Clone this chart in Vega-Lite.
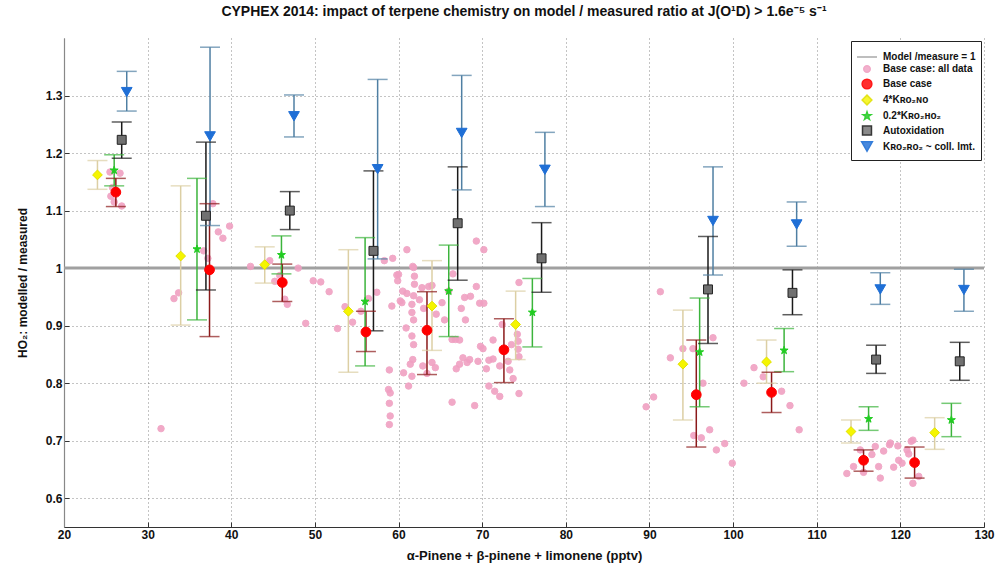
{
  "$schema": "https://vega.github.io/schema/vega-lite/v6.json",
  "width": 920,
  "height": 489,
  "autosize": "none",
  "padding": {"left": 64, "top": 38, "right": 11, "bottom": 41},
  "background": "white",
  "title": {
    "text": "CYPHEX 2014: impact of terpene chemistry on model / measured ratio  at J(O¹D) > 1.6e⁻⁵ s⁻¹",
    "font": "Liberation Sans",
    "fontSize": 14,
    "fontWeight": "bold",
    "color": "#111",
    "anchor": "middle",
    "offset": 19
  },
  "datasets": {
    "summary": [
      {"series": "Base case", "x": 26.2, "y": 1.132, "lo": 1.107, "hi": 1.156},
      {"series": "Base case", "x": 37.4, "y": 0.997, "lo": 0.881, "hi": 1.112},
      {"series": "Base case", "x": 46.1, "y": 0.975, "lo": 0.942, "hi": 1.007},
      {"series": "Base case", "x": 56.1, "y": 0.889, "lo": 0.855, "hi": 0.925},
      {"series": "Base case", "x": 63.4, "y": 0.892, "lo": 0.815, "hi": 0.959},
      {"series": "Base case", "x": 72.6, "y": 0.858, "lo": 0.801, "hi": 0.912},
      {"series": "Base case", "x": 95.6, "y": 0.780, "lo": 0.689, "hi": 0.875},
      {"series": "Base case", "x": 104.6, "y": 0.784, "lo": 0.749, "hi": 0.819},
      {"series": "Base case", "x": 115.6, "y": 0.666, "lo": 0.647, "hi": 0.684},
      {"series": "Base case", "x": 121.7, "y": 0.662, "lo": 0.635, "hi": 0.689},
      {"series": "4*Kʀᴏ₂ɴᴏ", "x": 24.0, "y": 1.162, "lo": 1.137, "hi": 1.187},
      {"series": "4*Kʀᴏ₂ɴᴏ", "x": 33.95, "y": 1.021, "lo": 0.901, "hi": 1.143},
      {"series": "4*Kʀᴏ₂ɴᴏ", "x": 44.0, "y": 1.006, "lo": 0.974, "hi": 1.037},
      {"series": "4*Kʀᴏ₂ɴᴏ", "x": 54.0, "y": 0.925, "lo": 0.819, "hi": 1.032},
      {"series": "4*Kʀᴏ₂ɴᴏ", "x": 64.0, "y": 0.934, "lo": 0.857, "hi": 1.013},
      {"series": "4*Kʀᴏ₂ɴᴏ", "x": 74.0, "y": 0.902, "lo": 0.841, "hi": 0.960},
      {"series": "4*Kʀᴏ₂ɴᴏ", "x": 94.0, "y": 0.833, "lo": 0.736, "hi": 0.927},
      {"series": "4*Kʀᴏ₂ɴᴏ", "x": 104.0, "y": 0.837, "lo": 0.800, "hi": 0.875},
      {"series": "4*Kʀᴏ₂ɴᴏ", "x": 114.1, "y": 0.716, "lo": 0.696, "hi": 0.736},
      {"series": "4*Kʀᴏ₂ɴᴏ", "x": 124.1, "y": 0.714, "lo": 0.685, "hi": 0.740},
      {"series": "0.2*Kʀᴏ₂ʜᴏ₂", "x": 26.0, "y": 1.170, "lo": 1.143, "hi": 1.197},
      {"series": "0.2*Kʀᴏ₂ʜᴏ₂", "x": 35.9, "y": 1.033, "lo": 0.910, "hi": 1.156},
      {"series": "0.2*Kʀᴏ₂ʜᴏ₂", "x": 46.0, "y": 1.023, "lo": 0.990, "hi": 1.056},
      {"series": "0.2*Kʀᴏ₂ʜᴏ₂", "x": 56.0, "y": 0.942, "lo": 0.830, "hi": 1.053},
      {"series": "0.2*Kʀᴏ₂ʜᴏ₂", "x": 66.0, "y": 0.960, "lo": 0.881, "hi": 1.040},
      {"series": "0.2*Kʀᴏ₂ʜᴏ₂", "x": 76.0, "y": 0.923, "lo": 0.863, "hi": 0.982},
      {"series": "0.2*Kʀᴏ₂ʜᴏ₂", "x": 96.0, "y": 0.854, "lo": 0.759, "hi": 0.948},
      {"series": "0.2*Kʀᴏ₂ʜᴏ₂", "x": 106.1, "y": 0.857, "lo": 0.820, "hi": 0.895},
      {"series": "0.2*Kʀᴏ₂ʜᴏ₂", "x": 116.2, "y": 0.738, "lo": 0.718, "hi": 0.759},
      {"series": "0.2*Kʀᴏ₂ʜᴏ₂", "x": 126.1, "y": 0.736, "lo": 0.707, "hi": 0.765},
      {"series": "Autoxidation", "x": 26.9, "y": 1.223, "lo": 1.191, "hi": 1.254},
      {"series": "Autoxidation", "x": 36.97, "y": 1.091, "lo": 0.962, "hi": 1.219},
      {"series": "Autoxidation", "x": 47.0, "y": 1.100, "lo": 1.067, "hi": 1.133},
      {"series": "Autoxidation", "x": 57.0, "y": 1.030, "lo": 0.891, "hi": 1.169},
      {"series": "Autoxidation", "x": 67.07, "y": 1.078, "lo": 0.979, "hi": 1.176},
      {"series": "Autoxidation", "x": 77.1, "y": 1.017, "lo": 0.958, "hi": 1.079},
      {"series": "Autoxidation", "x": 97.0, "y": 0.963, "lo": 0.869, "hi": 1.055},
      {"series": "Autoxidation", "x": 107.1, "y": 0.957, "lo": 0.919, "hi": 0.997},
      {"series": "Autoxidation", "x": 117.1, "y": 0.841, "lo": 0.817, "hi": 0.866},
      {"series": "Autoxidation", "x": 127.1, "y": 0.838, "lo": 0.805, "hi": 0.871},
      {"series": "Kʀᴏ₂ʀᴏ₂ ~ coll. lmt.", "x": 27.5, "y": 1.306, "lo": 1.273, "hi": 1.342},
      {"series": "Kʀᴏ₂ʀᴏ₂ ~ coll. lmt.", "x": 37.46, "y": 1.229, "lo": 1.074, "hi": 1.384},
      {"series": "Kʀᴏ₂ʀᴏ₂ ~ coll. lmt.", "x": 47.5, "y": 1.264, "lo": 1.228, "hi": 1.301},
      {"series": "Kʀᴏ₂ʀᴏ₂ ~ coll. lmt.", "x": 57.5, "y": 1.172, "lo": 1.016, "hi": 1.328},
      {"series": "Kʀᴏ₂ʀᴏ₂ ~ coll. lmt.", "x": 67.55, "y": 1.235, "lo": 1.136, "hi": 1.335},
      {"series": "Kʀᴏ₂ʀᴏ₂ ~ coll. lmt.", "x": 77.5, "y": 1.171, "lo": 1.107, "hi": 1.236},
      {"series": "Kʀᴏ₂ʀᴏ₂ ~ coll. lmt.", "x": 97.6, "y": 1.082, "lo": 0.988, "hi": 1.176},
      {"series": "Kʀᴏ₂ʀᴏ₂ ~ coll. lmt.", "x": 107.6, "y": 1.076, "lo": 1.038, "hi": 1.115},
      {"series": "Kʀᴏ₂ʀᴏ₂ ~ coll. lmt.", "x": 117.6, "y": 0.963, "lo": 0.937, "hi": 0.992},
      {"series": "Kʀᴏ₂ʀᴏ₂ ~ coll. lmt.", "x": 127.6, "y": 0.962, "lo": 0.925, "hi": 0.998}
    ],
    "all": [
      {"series": "Base case: all data", "x": 25.5, "y": 1.167},
      {"series": "Base case: all data", "x": 25.6, "y": 1.125},
      {"series": "Base case: all data", "x": 26.0, "y": 1.115},
      {"series": "Base case: all data", "x": 26.9, "y": 1.108},
      {"series": "Base case: all data", "x": 25.8, "y": 1.14},
      {"series": "Base case: all data", "x": 26.7, "y": 1.165},
      {"series": "Base case: all data", "x": 37.8, "y": 1.112},
      {"series": "Base case: all data", "x": 38.45, "y": 1.063},
      {"series": "Base case: all data", "x": 39.0, "y": 1.052},
      {"series": "Base case: all data", "x": 39.8, "y": 1.073},
      {"series": "Base case: all data", "x": 36.7, "y": 1.030},
      {"series": "Base case: all data", "x": 37.2, "y": 1.017},
      {"series": "Base case: all data", "x": 33.15, "y": 0.947},
      {"series": "Base case: all data", "x": 33.7, "y": 0.957},
      {"series": "Base case: all data", "x": 31.6, "y": 0.721},
      {"series": "Base case: all data", "x": 42.3, "y": 1.003},
      {"series": "Base case: all data", "x": 44.6, "y": 1.013},
      {"series": "Base case: all data", "x": 45.2, "y": 0.977},
      {"series": "Base case: all data", "x": 46.4, "y": 0.946},
      {"series": "Base case: all data", "x": 46.7, "y": 0.937},
      {"series": "Base case: all data", "x": 45.8, "y": 0.987},
      {"series": "Base case: all data", "x": 48.0, "y": 1.0},
      {"series": "Base case: all data", "x": 49.8, "y": 0.978},
      {"series": "Base case: all data", "x": 50.7, "y": 0.976},
      {"series": "Base case: all data", "x": 51.7, "y": 0.959},
      {"series": "Base case: all data", "x": 48.9, "y": 0.904},
      {"series": "Base case: all data", "x": 52.7, "y": 0.895},
      {"series": "Base case: all data", "x": 53.6, "y": 0.933},
      {"series": "Base case: all data", "x": 54.5, "y": 0.906},
      {"series": "Base case: all data", "x": 55.5, "y": 0.925},
      {"series": "Base case: all data", "x": 56.4, "y": 0.947},
      {"series": "Base case: all data", "x": 57.4, "y": 0.958},
      {"series": "Base case: all data", "x": 58.3, "y": 1.013},
      {"series": "Base case: all data", "x": 59.3, "y": 1.017},
      {"series": "Base case: all data", "x": 61.0, "y": 1.032},
      {"series": "Base case: all data", "x": 58.9, "y": 0.823},
      {"series": "Base case: all data", "x": 58.8, "y": 0.789},
      {"series": "Base case: all data", "x": 59.0, "y": 0.783},
      {"series": "Base case: all data", "x": 58.9, "y": 0.765},
      {"series": "Base case: all data", "x": 59.0, "y": 0.743},
      {"series": "Base case: all data", "x": 58.9, "y": 0.728},
      {"series": "Base case: all data", "x": 60.0, "y": 0.989},
      {"series": "Base case: all data", "x": 59.9, "y": 0.978},
      {"series": "Base case: all data", "x": 60.2, "y": 0.943},
      {"series": "Base case: all data", "x": 59.2, "y": 0.934},
      {"series": "Base case: all data", "x": 60.9, "y": 0.896},
      {"series": "Base case: all data", "x": 60.6, "y": 0.818},
      {"series": "Base case: all data", "x": 61.2, "y": 0.795},
      {"series": "Base case: all data", "x": 61.6, "y": 0.812},
      {"series": "Base case: all data", "x": 61.8, "y": 0.952},
      {"series": "Base case: all data", "x": 61.6, "y": 0.937},
      {"series": "Base case: all data", "x": 61.6, "y": 0.923},
      {"series": "Base case: all data", "x": 61.8, "y": 0.910},
      {"series": "Base case: all data", "x": 61.8, "y": 1.001},
      {"series": "Base case: all data", "x": 61.9, "y": 0.986},
      {"series": "Base case: all data", "x": 61.9, "y": 0.972},
      {"series": "Base case: all data", "x": 61.0, "y": 0.956},
      {"series": "Base case: all data", "x": 60.4, "y": 0.940},
      {"series": "Base case: all data", "x": 61.6, "y": 0.882},
      {"series": "Base case: all data", "x": 61.8, "y": 0.867},
      {"series": "Base case: all data", "x": 61.7, "y": 0.841},
      {"series": "Base case: all data", "x": 61.4, "y": 0.833},
      {"series": "Base case: all data", "x": 62.8, "y": 0.966},
      {"series": "Base case: all data", "x": 63.6, "y": 0.968},
      {"series": "Base case: all data", "x": 62.9, "y": 0.830},
      {"series": "Base case: all data", "x": 63.4, "y": 0.817},
      {"series": "Base case: all data", "x": 64.0, "y": 0.836},
      {"series": "Base case: all data", "x": 64.4, "y": 0.827},
      {"series": "Base case: all data", "x": 65.2, "y": 0.940},
      {"series": "Base case: all data", "x": 66.4, "y": 0.767},
      {"series": "Base case: all data", "x": 66.4, "y": 0.876},
      {"series": "Base case: all data", "x": 66.8, "y": 0.876},
      {"series": "Base case: all data", "x": 67.3, "y": 0.875},
      {"series": "Base case: all data", "x": 66.9, "y": 0.825},
      {"series": "Base case: all data", "x": 67.3, "y": 0.833},
      {"series": "Base case: all data", "x": 67.7, "y": 0.844},
      {"series": "Base case: all data", "x": 68.2, "y": 0.836},
      {"series": "Base case: all data", "x": 68.5, "y": 0.841},
      {"series": "Base case: all data", "x": 67.9, "y": 0.949},
      {"series": "Base case: all data", "x": 68.6, "y": 0.951},
      {"series": "Base case: all data", "x": 69.1, "y": 0.761},
      {"series": "Base case: all data", "x": 69.3, "y": 0.968},
      {"series": "Base case: all data", "x": 69.7, "y": 0.939},
      {"series": "Base case: all data", "x": 70.2, "y": 0.939},
      {"series": "Base case: all data", "x": 69.5, "y": 0.838},
      {"series": "Base case: all data", "x": 69.8, "y": 0.864},
      {"series": "Base case: all data", "x": 70.1, "y": 0.860},
      {"series": "Base case: all data", "x": 70.5, "y": 0.825},
      {"series": "Base case: all data", "x": 70.8, "y": 0.840},
      {"series": "Base case: all data", "x": 71.3, "y": 0.842},
      {"series": "Base case: all data", "x": 71.3, "y": 0.875},
      {"series": "Base case: all data", "x": 70.8, "y": 0.795},
      {"series": "Base case: all data", "x": 71.5, "y": 0.786},
      {"series": "Base case: all data", "x": 72.1, "y": 0.777},
      {"series": "Base case: all data", "x": 72.1, "y": 0.830},
      {"series": "Base case: all data", "x": 72.4, "y": 0.902},
      {"series": "Base case: all data", "x": 73.1, "y": 0.838},
      {"series": "Base case: all data", "x": 73.3, "y": 0.823},
      {"series": "Base case: all data", "x": 73.5, "y": 0.867},
      {"series": "Base case: all data", "x": 73.7, "y": 0.808},
      {"series": "Base case: all data", "x": 74.2, "y": 0.885},
      {"series": "Base case: all data", "x": 74.3, "y": 0.873},
      {"series": "Base case: all data", "x": 74.3, "y": 0.859},
      {"series": "Base case: all data", "x": 74.4, "y": 0.846},
      {"series": "Base case: all data", "x": 74.4, "y": 0.782},
      {"series": "Base case: all data", "x": 74.4, "y": 0.975},
      {"series": "Base case: all data", "x": 70.2, "y": 1.032},
      {"series": "Base case: all data", "x": 69.3, "y": 1.047},
      {"series": "Base case: all data", "x": 61.7, "y": 1.003},
      {"series": "Base case: all data", "x": 59.8, "y": 0.988},
      {"series": "Base case: all data", "x": 62.5, "y": 0.945},
      {"series": "Base case: all data", "x": 63.0, "y": 0.930},
      {"series": "Base case: all data", "x": 60.5, "y": 0.960},
      {"series": "Base case: all data", "x": 64.5, "y": 0.920},
      {"series": "Base case: all data", "x": 65.5, "y": 0.910},
      {"series": "Base case: all data", "x": 66.0, "y": 0.960},
      {"series": "Base case: all data", "x": 66.5, "y": 0.990},
      {"series": "Base case: all data", "x": 67.5, "y": 0.930},
      {"series": "Base case: all data", "x": 68.0, "y": 0.910},
      {"series": "Base case: all data", "x": 64.0, "y": 0.970},
      {"series": "Base case: all data", "x": 91.3, "y": 0.959},
      {"series": "Base case: all data", "x": 97.6, "y": 0.879},
      {"series": "Base case: all data", "x": 94.0, "y": 0.860},
      {"series": "Base case: all data", "x": 95.2, "y": 0.860},
      {"series": "Base case: all data", "x": 92.5, "y": 0.844},
      {"series": "Base case: all data", "x": 90.5, "y": 0.776},
      {"series": "Base case: all data", "x": 89.6, "y": 0.759},
      {"series": "Base case: all data", "x": 96.4, "y": 0.800},
      {"series": "Base case: all data", "x": 95.3, "y": 0.709},
      {"series": "Base case: all data", "x": 96.2, "y": 0.705},
      {"series": "Base case: all data", "x": 97.2, "y": 0.719},
      {"series": "Base case: all data", "x": 98.0, "y": 0.684},
      {"series": "Base case: all data", "x": 99.0, "y": 0.695},
      {"series": "Base case: all data", "x": 99.9, "y": 0.661},
      {"series": "Base case: all data", "x": 101.3, "y": 0.800},
      {"series": "Base case: all data", "x": 102.5, "y": 0.827},
      {"series": "Base case: all data", "x": 103.6, "y": 0.811},
      {"series": "Base case: all data", "x": 105.8, "y": 0.786},
      {"series": "Base case: all data", "x": 106.8, "y": 0.761},
      {"series": "Base case: all data", "x": 107.9, "y": 0.719},
      {"series": "Base case: all data", "x": 113.6, "y": 0.643},
      {"series": "Base case: all data", "x": 114.4, "y": 0.655},
      {"series": "Base case: all data", "x": 115.2, "y": 0.684},
      {"series": "Base case: all data", "x": 116.6, "y": 0.676},
      {"series": "Base case: all data", "x": 117.0, "y": 0.690},
      {"series": "Base case: all data", "x": 117.4, "y": 0.655},
      {"series": "Base case: all data", "x": 118.0, "y": 0.682},
      {"series": "Base case: all data", "x": 118.7, "y": 0.693},
      {"series": "Base case: all data", "x": 119.2, "y": 0.654},
      {"series": "Base case: all data", "x": 119.8, "y": 0.666},
      {"series": "Base case: all data", "x": 120.2, "y": 0.661},
      {"series": "Base case: all data", "x": 120.8, "y": 0.684},
      {"series": "Base case: all data", "x": 121.0, "y": 0.677},
      {"series": "Base case: all data", "x": 121.5, "y": 0.701},
      {"series": "Base case: all data", "x": 122.2, "y": 0.638},
      {"series": "Base case: all data", "x": 117.6, "y": 0.635},
      {"series": "Base case: all data", "x": 115.6, "y": 0.645},
      {"series": "Base case: all data", "x": 118.8, "y": 0.696},
      {"series": "Base case: all data", "x": 119.7, "y": 0.691},
      {"series": "Base case: all data", "x": 121.3, "y": 0.699},
      {"series": "Base case: all data", "x": 121.5, "y": 0.626}
    ],
    "ref": [{"series": "Model /measure = 1", "y": 1}]
  },
  "layer": [
    {
      "data": {"name": "ref"},
      "mark": {"type": "rule", "strokeWidth": 3},
      "encoding": {
        "y": {"field": "y", "type": "quantitative"},
        "stroke": {"field": "series", "type": "nominal",
          "scale": {"domain": ["Model /measure = 1", "Base case: all data", "Base case", "4*Kʀᴏ₂ɴᴏ", "0.2*Kʀᴏ₂ʜᴏ₂", "Autoxidation", "Kʀᴏ₂ʀᴏ₂ ~ coll. lmt."],
                    "range": ["#a0a0a0", "#f0a0c2", "#ff0000", "#e0e000", "#22cc22", "#222222", "#1f6fd6"]},
          "legend": {"title": null}}
      }
    },
    {
      "data": {"name": "all"},
      "mark": {"type": "point", "filled": true, "strokeWidth": 1, "opacity": 0.9},
      "encoding": {
        "x": {"field": "x", "type": "quantitative"},
        "y": {"field": "y", "type": "quantitative"},
        "fill": {"field": "series", "type": "nominal",
          "scale": {"domain": ["Model /measure = 1", "Base case: all data", "Base case", "4*Kʀᴏ₂ɴᴏ", "0.2*Kʀᴏ₂ʜᴏ₂", "Autoxidation", "Kʀᴏ₂ʀᴏ₂ ~ coll. lmt."],
                    "range": ["#a0a0a0", "#f0a0c2", "#ff0000", "#f5f500", "#22cc22", "#707070", "#1f6fd6"]},
          "legend": {"title": null}},
        "stroke": {"field": "series", "type": "nominal", "legend": {"title": null}},
        "shape": {"field": "series", "type": "nominal",
          "scale": {"domain": ["Model /measure = 1", "Base case: all data", "Base case", "4*Kʀᴏ₂ɴᴏ", "0.2*Kʀᴏ₂ʜᴏ₂", "Autoxidation", "Kʀᴏ₂ʀᴏ₂ ~ coll. lmt."],
                    "range": ["stroke", "circle", "circle", "diamond", "M0,-1L0.2245,-0.309L0.9511,-0.309L0.3633,0.118L0.5878,0.809L0,0.382L-0.5878,0.809L-0.3633,0.118L-0.9511,-0.309L-0.2245,-0.309Z", "square", "triangle-down"]},
          "legend": {"title": null}},
        "size": {"field": "series", "type": "nominal",
          "scale": {"type": "ordinal", "domain": ["Model /measure = 1", "Base case: all data", "Base case", "4*Kʀᴏ₂ɴᴏ", "0.2*Kʀᴏ₂ʜᴏ₂", "Autoxidation", "Kʀᴏ₂ʀᴏ₂ ~ coll. lmt."],
                    "range": [400, 42, 95, 95, 70, 80, 115]},
          "legend": {"title": null}}
      }
    },
    {
      "data": {"name": "summary"},
      "mark": {"type": "rule", "strokeWidth": 1.5},
      "encoding": {
        "x": {"field": "x", "type": "quantitative"},
        "y": {"field": "lo", "type": "quantitative"},
        "y2": {"field": "hi"},
        "color": {"field": "series", "type": "nominal", "legend": null,
          "scale": {"domain": ["Base case", "4*Kʀᴏ₂ɴᴏ", "0.2*Kʀᴏ₂ʜᴏ₂", "Autoxidation", "Kʀᴏ₂ʀᴏ₂ ~ coll. lmt."],
                    "range": ["#8b1a1a", "#dccfa4", "#3cb43c", "#1a1a1a", "#4f7fa3"]}}
      }
    },
    {
      "data": {"name": "summary"},
      "mark": {"type": "tick", "orient": "horizontal", "size": 20, "thickness": 1.5},
      "encoding": {
        "x": {"field": "x", "type": "quantitative"},
        "y": {"field": "lo", "type": "quantitative"},
        "color": {"field": "series", "type": "nominal", "legend": null}
      }
    },
    {
      "data": {"name": "summary"},
      "mark": {"type": "tick", "orient": "horizontal", "size": 20, "thickness": 1.5},
      "encoding": {
        "x": {"field": "x", "type": "quantitative"},
        "y": {"field": "hi", "type": "quantitative"},
        "color": {"field": "series", "type": "nominal", "legend": null}
      }
    },
    {
      "data": {"name": "summary"},
      "mark": {"type": "point", "filled": true, "strokeWidth": 1, "opacity": 1},
      "encoding": {
        "x": {"field": "x", "type": "quantitative",
          "scale": {"domain": [20, 130], "nice": false, "zero": false},
          "axis": {"title": "α-Pinene + β-pinene + limonene  (pptv)", "values": [20, 30, 40, 50, 60, 70, 80, 90, 100, 110, 120, 130]}},
        "y": {"field": "y", "type": "quantitative",
          "scale": {"domain": [0.55, 1.4], "nice": false, "zero": false},
          "axis": {"title": "HO₂: modelled / measured", "values": [0.6, 0.7, 0.8, 0.9, 1, 1.1, 1.2, 1.3], "format": "~g"}},
        "fill": {"field": "series", "type": "nominal", "legend": {"title": null}},
        "stroke": {"field": "series", "type": "nominal", "legend": {"title": null}},
        "shape": {"field": "series", "type": "nominal", "legend": {"title": null}},
        "size": {"field": "series", "type": "nominal",
          "scale": {"type": "ordinal", "domain": ["Model /measure = 1", "Base case: all data", "Base case", "4*Kʀᴏ₂ɴᴏ", "0.2*Kʀᴏ₂ʜᴏ₂", "Autoxidation", "Kʀᴏ₂ʀᴏ₂ ~ coll. lmt."],
                    "range": [400, 42, 95, 95, 70, 80, 115]},
          "legend": {"title": null}}
      }
    }
  ],
  "config": {
    "view": {"stroke": null},
    "font": "Liberation Sans",
    "axis": {
      "grid": true,
      "gridDash": [1, 3],
      "gridColor": "#555",
      "gridOpacity": 0.7,
      "domainColor": "#333",
      "domainWidth": 1.2,
      "tickColor": "#333",
      "tickSize": -5,
      "labelPadding": 7,
      "labelFont": "Liberation Sans",
      "labelFontSize": 12,
      "labelFontWeight": "bold",
      "labelColor": "#111",
      "titleFont": "Liberation Sans",
      "titleFontSize": 12,
      "titleFontWeight": "bold",
      "titleColor": "#111",
      "labelFlush": false
    },
    "axisX": {"titlePadding": 9, "titleFontSize": 13},
    "axisY": {"titlePadding": 16, "domainColor": "#888"},
    "legend": {
      "orient": "top-right",
      "offset": 3,
      "strokeColor": "#222",
      "fillColor": "white",
      "padding": 5,
      "rowPadding": 0,
      "labelFont": "Liberation Sans",
      "labelFontSize": 10,
      "labelFontWeight": "bold",
      "labelColor": "#111",
      "symbolStrokeWidth": 1.5,
      "labelOffset": 5
    }
  }
}
